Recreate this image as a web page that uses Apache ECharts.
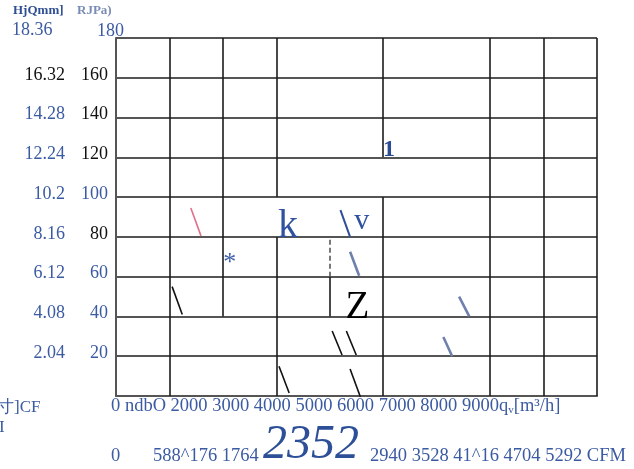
<!DOCTYPE html>
<html>
<head>
<meta charset="utf-8">
<script src="https://cdn.jsdelivr.net/npm/echarts@6/dist/echarts.min.js"></script>
<style>
	html,body{margin:0;padding:0;background:#fff;}
	#main{width:634px;height:469px;}
</style>
</head>
<body>
<div id="main"></div>
<script>
	// y tick labels, Pa column and mmH2O column
	var paLabels = ['0','20','40','60','80','100','120','140','160','180'];
	var mmLabels = ['0','2.04','4.08','6.12','8.16','10.2','12.24','14.28','16.32','18.36'];
	var paBlack = [0,0,0,0,1,0,1,1,1,0];
	var mmBlack = [0,0,0,0,0,0,0,0,1,0];
	var headLeft = 'HjQmm]';
	var headRight = 'RJPa)';
	var flowText = '0 ndbO 2000 3000 4000 5000 6000 7000 8000 9000q';
	var cfmZero = '0';
	var cfmLeft = '588^176 1764';
	var cfmBig = '2352';
	var cfmRight = '2940 3528 41^16 4704 5292 CFM';

	// cell borders [x, yFrom, yTo]
	var vLines = [[1000,0,180],[2000,40,180],[3000,100,180],[3000,0,80],[4000,40,60],
		[5000,120,180],[5000,0,100],[7000,0,180],[8000,0,180],[9000,0,180]];
	var vDashed = [[4000,60,80]];

	// stray strokes [x1, y1, x2, y2]
	var blackStrokes = [[1050,55,1240,41],[4045,32.7,4230,20.6],[4310,32.7,4495,20.6],[3050,15,3240,1.5],[4380,13.6,4580,-1]];
	var blueStrokes = [[4200,93.5,4380,80]];
	var paleStrokes = [[4380,72.5,4550,60.5],[6420,50,6610,40],[6125,29.7,6290,20]];
	var pinkStrokes = [[1400,94.5,1590,80.5]];

	// stray glyphs [x, y, text]
	var glyphs = [[3220,85,'k'],[4600,88,'v'],[2130,67,'*'],[4515,44.5,'Z'],[5110,124,'1']];

	var BLUE = '#3a5aa2';
	var SERIF = '"Liberation Serif", "DejaVu Serif", serif';

	function segs(arr) {
		return arr.map(function (s) { return {coords: [[s[0], s[1]], [s[2], s[3]]]}; });
	}
	function vsegs(arr) {
		return arr.map(function (s) { return {coords: [[s[0], s[1]], [s[0], s[2]]]}; });
	}
	function strokeSeries(arr, color, width) {
		return {
			type: 'lines', coordinateSystem: 'cartesian2d', polyline: false, silent: true,
			lineStyle: {color: color, width: width, opacity: 1},
			data: segs(arr), z: 5
		};
	}

	var glyphRich = {
		k: {fontSize: 40, color: '#2f52a0', fontFamily: SERIF},
		v: {fontSize: 30, color: '#2f52a0', fontFamily: SERIF},
		s: {fontSize: 26, color: '#3f5fa8', fontFamily: SERIF},
		z: {fontSize: 39, color: '#000', fontFamily: SERIF},
		o: {fontSize: 24, color: '#2b4c94', fontFamily: SERIF, fontWeight: 'bold'}
	};
	var glyphKey = {'k': 'k', 'v': 'v', '*': 's', 'Z': 'z', '1': 'o'};

	var myChart = echarts.init(document.getElementById('main'));
	var option = {
		animation: false,
		grid: {left: 116, right: 37, top: 38, bottom: 73},
		xAxis: {
			type: 'value', min: 0, max: 9000, interval: 1000,
			axisLine: {lineStyle: {color: '#555', width: 2}},
			axisTick: {show: false},
			axisLabel: {show: false},
			splitLine: {show: false}
		},
		yAxis: {
			type: 'value', min: 0, max: 180, interval: 20,
			axisLine: {show: true, lineStyle: {color: '#555', width: 2}},
			axisTick: {show: false},
			splitLine: {lineStyle: {color: '#1c1c1c', width: 1.6}},
			axisLabel: {
				margin: 8,
				padding: [0, 0, 6, 0],
				formatter: function (v) {
					var i = paLabels.indexOf(String(v));
					if (i <= 0 || i === paLabels.length - 1) return '';
					return '{' + (mmBlack[i] ? 'mk' : 'mb') + '|' + mmLabels[i] + '}{' +
						(paBlack[i] ? 'pk' : 'pb') + '|' + paLabels[i] + '}';
				},
				rich: {
					mb: {color: BLUE, fontSize: 18, fontFamily: SERIF},
					mk: {color: '#111', fontSize: 18, fontFamily: SERIF},
					pb: {color: BLUE, fontSize: 18, fontFamily: SERIF, width: 43, align: 'right'},
					pk: {color: '#111', fontSize: 18, fontFamily: SERIF, width: 43, align: 'right'}
				}
			}
		},
		graphic: [
			{type: 'text', left: 13, top: 4, style: {text: headLeft, fill: '#2f4f93', font: 'bold 13px ' + SERIF}},
			{type: 'text', left: 77, top: 4, style: {text: headRight, fill: '#7a8cb6', font: 'bold 13px ' + SERIF}},
			{type: 'text', left: 12, top: 21, style: {text: mmLabels[9], fill: BLUE, font: '18px ' + SERIF}},
			{type: 'text', left: 97, top: 22, style: {text: paLabels[9], fill: BLUE, font: '18px ' + SERIF}},
			{type: 'text', left: 111, top: 397, style: {
				rich: {a: {fill: BLUE, font: '18.5px ' + SERIF}, s: {fill: BLUE, font: '11px ' + SERIF, padding: [8, 0, 0, 0]}},
				text: '{a|' + flowText + '}{s|v}{a|[m³/h]}'}},
			{type: 'text', left: -3, top: 399, style: {text: '寸]CF', fill: BLUE, font: '17px ' + SERIF}},
			{type: 'text', left: -1, top: 419, style: {text: 'I', fill: BLUE, font: '17px ' + SERIF}},
			{type: 'text', left: 111, top: 447, style: {text: cfmZero, fill: BLUE, font: '18.5px ' + SERIF}},
			{type: 'text', left: 153, top: 447, style: {text: cfmLeft, fill: BLUE, font: '18.5px ' + SERIF}},
			{type: 'text', left: 263, top: 421, style: {text: cfmBig, fill: '#2c4f98', font: 'italic 48px ' + SERIF}},
			{type: 'text', left: 370, top: 447, style: {text: cfmRight, fill: BLUE, font: '18.5px ' + SERIF}}
		],
		series: [
			{
				type: 'lines', coordinateSystem: 'cartesian2d', polyline: false, silent: true,
				lineStyle: {color: '#1c1c1c', width: 1.6, opacity: 1},
				data: vsegs(vLines), z: 3
			},
			{
				type: 'lines', coordinateSystem: 'cartesian2d', polyline: false, silent: true,
				lineStyle: {color: '#555', width: 1.6, type: [5, 3], opacity: 1},
				data: vsegs(vDashed), z: 3
			},
			strokeSeries(blackStrokes, '#111', 1.6),
			strokeSeries(blueStrokes, '#2f4f98', 2),
			strokeSeries(paleStrokes, '#6f80ad', 2.6),
			strokeSeries(pinkStrokes, '#e0708c', 1.6),
			{
				type: 'scatter', symbolSize: 1, silent: true, z: 6,
				itemStyle: {color: 'rgba(0,0,0,0)', opacity: 1},
				data: glyphs,
				label: {
					show: true, position: 'inside', opacity: 1,
					formatter: function (p) {
						return '{' + glyphKey[p.data[2]] + '|' + p.data[2] + '}';
					},
					rich: glyphRich
				}
			}
		]
	};
	myChart.setOption(option);
</script>
</body>
</html>
